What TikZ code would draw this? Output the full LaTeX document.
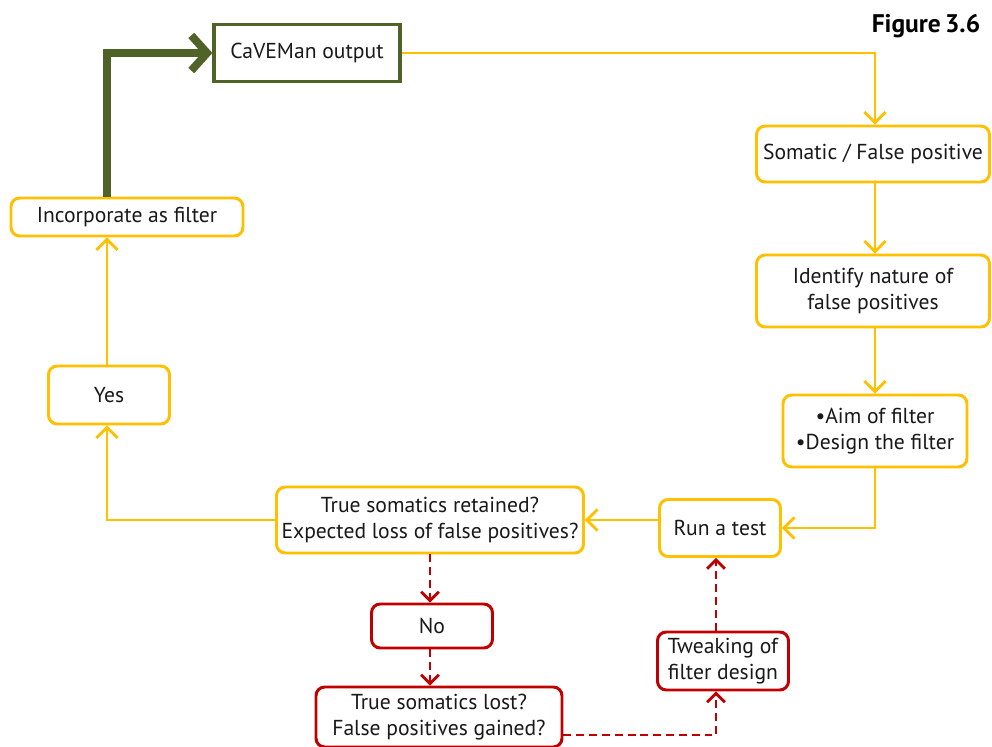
\documentclass[tikz,border=0pt]{standalone}
\usepackage{fontspec}
\setmainfont{PT Sans}
\usetikzlibrary{arrows.meta}
\definecolor{amber}{RGB}{255,192,0}
\definecolor{olive}{RGB}{79,98,40}
\definecolor{brick}{RGB}{192,0,0}
\definecolor{ink}{RGB}{25,25,25}
\tikzset{
  box/.style={draw=amber, line width=1.7pt, rounded corners=5pt, fill=white,
    text=ink, align=center, font=\fontsize{12.3}{15}\selectfont, inner sep=2pt},
  redbox/.style={box, draw=brick},
  flow/.style={draw=amber, line width=1.6pt, -{Straight Barb[length=6pt,width=12pt,line width=1.6pt]}},
  back/.style={draw=brick, line width=1.7pt, dash pattern=on 4.5pt off 2.8pt,
    -{Straight Barb[length=5pt,width=10pt,line width=1.6pt]}},
}
\begin{document}
\begin{tikzpicture}[x=0.02cm, y=-0.02cm]
    \useasboundingbox (0,0) rectangle (992,747);
    \node (Out) at (307,53) [draw=olive, line width=1.8pt, minimum width=186*0.02cm,
      minimum height=57*0.02cm, text=ink, font=\fontsize{12.3}{15}\selectfont] {CaVEMan output};
    \node (Som) at (873,154) [box, minimum width=233*0.02cm, minimum height=56*0.02cm] {Somatic / False positive};
    \node (Nat) at (873,291) [box, minimum width=233*0.02cm, minimum height=72*0.02cm] {Identify nature of\\false positives};
    \node (Aim) at (875,431) [box, minimum width=184*0.02cm, minimum height=72*0.02cm] {•Aim of filter\\•Design the filter};
    \node (Run) at (720,528) [box, minimum width=121*0.02cm, minimum height=57*0.02cm] {Run a test};
    \node (Ret) at (430,520) [box, minimum width=307*0.02cm, minimum height=66*0.02cm] {True somatics retained?\\Expected loss of false positives?};
    \node (Yes) at (109,395) [box, minimum width=121*0.02cm, minimum height=58*0.02cm] {Yes};
    \node (Inc) at (127,217) [box, minimum width=232*0.02cm, minimum height=38*0.02cm] {Incorporate as filter};
    \node (No) at (432,626) [redbox, minimum width=121*0.02cm, minimum height=44*0.02cm] {No};
    \node (Lost) at (439,717) [redbox, minimum width=246*0.02cm, minimum height=60*0.02cm] {True somatics lost?\\False positives gained?};
    \node (Twk) at (723,661) [redbox, minimum width=131*0.02cm, minimum height=58*0.02cm] {Tweaking of\\filter design};
    \node (Fig) at (926,26) [font=\fontsize{14.5}{16}\bfseries\selectfont, text=black] {Figure\,3.6};
    % main loop
    \draw [flow] (Out.east) -| (Som.north -| Aim.north);
    \draw [flow] (Som.south -| Aim.north) -- (Nat.north -| Aim.north);
    \draw [flow] (Nat.south -| Aim.north) -- (Aim.north);
    \draw [flow] (Aim.south) |- (Run.east);
    \draw [flow] (Run.west |- Ret.east) -- (Ret.east);
    \draw [flow] (Ret.west) -| (Yes.south -| 107,0);
    \draw [flow] (Yes.north -| 107,0) -- (Inc.south -| 107,0);
    \draw [draw=olive, line width=4.5pt, -{Straight Barb[length=9pt,width=20pt,line width=4.5pt]}]
      (Inc.north -| 107,0) |- (Out.west);
    % failed test
    \draw [back] (Ret.south) -- (Ret.south |- No.north);
    \draw [back] (No.south -| Ret.south) -- (Lost.north -| Ret.south);
    \draw [back] (Lost.east |- 0,735) -| (Twk.south -| 716,0);
    \draw [back] (Twk.north -| 716,0) -- (Run.south -| 716,0);
\end{tikzpicture}
\end{document}
